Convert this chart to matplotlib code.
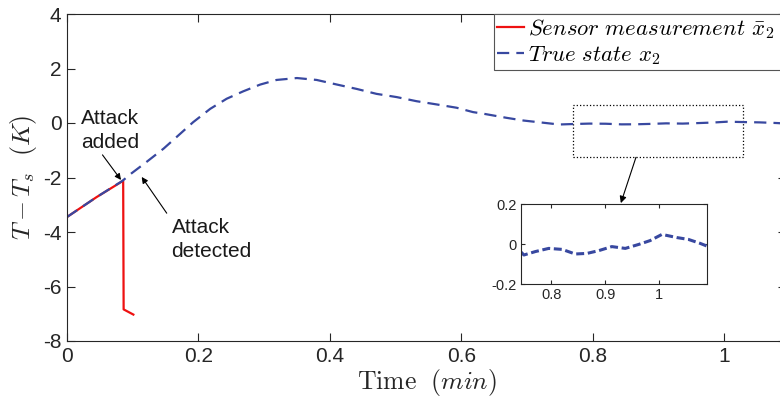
import matplotlib
matplotlib.use("Agg")
import matplotlib.pyplot as plt
from matplotlib.patches import Rectangle

plt.rcParams['font.family'] = ['Liberation Sans', 'DejaVu Sans']
plt.rcParams['mathtext.fontset'] = 'cm'

# True state x2 (time in min, value in K)
t_true = [0, 0.045, 0.084, 0.098, 0.121, 0.147, 0.167, 0.192, 0.218, 0.243, 0.268,
          0.294, 0.319, 0.350, 0.380, 0.411, 0.441, 0.471, 0.502, 0.532, 0.563,
          0.593, 0.618, 0.634, 0.669, 0.695, 0.725, 0.749, 0.770, 0.795, 0.820,
          0.844, 0.866, 0.888, 0.912, 0.937, 0.962, 0.983, 1.005, 1.033, 1.054,
          1.076, 1.088]
x_true = [-3.45, -2.72, -2.13, -1.85, -1.43, -0.94, -0.51, 0.03, 0.52, 0.89, 1.16,
          1.41, 1.58, 1.65, 1.58, 1.41, 1.25, 1.07, 0.95, 0.80, 0.68,
          0.56, 0.40, 0.34, 0.19, 0.09, 0.01, -0.055, -0.038, -0.022, -0.027,
          -0.05, -0.047, -0.033, -0.013, -0.022, -0.002, 0.017, 0.048, 0.032, 0.023,
          0.003, -0.01]

# Sensor measurement
t_sens = [0, 0.045, 0.0855, 0.0862, 0.101]
x_sens = [-3.45, -2.72, -2.12, -6.84, -7.03]

xticks = [0, 0.2, 0.4, 0.6, 0.8, 1]
yticks = [-8, -6, -4, -2, 0, 2, 4]
in_xticks = [0.8, 0.9, 1]
in_yticks = [-0.2, 0, 0.2]

blue = '#3848a0'
red = '#ee1111'
axcol = '#262626'
txtcol = '#1a1a1a'

W, H = 780, 409
fig = plt.figure(figsize=(W / 100, H / 100), dpi=100)

xmax = 1.095
pxu = 657.0
left, right = 67, 67 + xmax * pxu
top, bottom = 14, 341
ax = fig.add_axes([left / W, (H - bottom) / H, (right - left) / W, (bottom - top) / H])

ax.plot(t_sens, x_sens, color=red, lw=1.6, label=r'$Sensor\ measurement\ \bar{x}_2$')
ax.plot(t_true, x_true, color=blue, lw=1.6, linestyle=(0, (5.5, 3.2)),
        label=r'$True\ state\ x_2$')

ax.set_xlim(0, xmax)
ax.set_ylim(-8, 4)
ax.set_xticks(xticks)
ax.set_xticklabels(['0', '0.2', '0.4', '0.6', '0.8', '1'])
ax.set_yticks(yticks)
ax.set_yticklabels(['-8', '-6', '-4', '-2', '0', '2', '4'])
ax.tick_params(direction='in', length=6, width=0.8, colors=axcol, labelsize=15,
               top=True, right=True, pad=4)
for s in ax.spines.values():
    s.set_color(axcol)
    s.set_linewidth(0.8)

ax.set_xlabel(r'$\mathrm{Time}\ \ (min)$', fontsize=18.5, color=axcol, labelpad=1)
ax.set_ylabel(r'$T-T_s\ \ (K)$', fontsize=18.5, color=axcol, labelpad=3)

# annotations
ax.text(0.065, -0.90, 'Attack\nadded', ha='center', va='baseline', fontsize=15,
        color=txtcol, linespacing=1.3)
ax.annotate('', xy=(0.0822, -2.09), xytext=(0.054, -1.17),
            arrowprops=dict(arrowstyle='-|>', lw=0.8, color='black', mutation_scale=9,
                            shrinkA=0, shrinkB=0))
ax.text(0.159, -4.90, 'Attack\ndetected', ha='left', va='baseline', fontsize=15,
        color=txtcol, linespacing=1.3)
ax.annotate('', xy=(0.1137, -1.98), xytext=(0.1518, -3.31),
            arrowprops=dict(arrowstyle='-|>', lw=0.8, color='black', mutation_scale=9,
                            shrinkA=0, shrinkB=0))

# zoom rectangle
ax.add_patch(Rectangle((0.770, -1.24), 1.029 - 0.770, 0.66 + 1.24, fill=False,
                       linestyle=':', lw=0.9, edgecolor='black'))
ax.annotate('', xy=(0.843, -2.94), xytext=(0.866, -1.26),
            arrowprops=dict(arrowstyle='-|>', lw=0.8, color='black', mutation_scale=10,
                            shrinkA=0, shrinkB=0))

leg = ax.legend(loc='upper left', bbox_to_anchor=(494 / W, 0, 320 / W, (H - 14) / H),
                bbox_transform=fig.transFigure, mode='expand', fontsize=16.4,
                frameon=True, fancybox=False, framealpha=1, edgecolor='#555555',
                borderaxespad=0, borderpad=0.15, handlelength=1.15,
                handletextpad=0.2, labelspacing=0.08)
leg.get_frame().set_linewidth(0.8)

# inset
il, ir, it, ib = 520.7, 706.7, 204, 284
axin = fig.add_axes([il / W, (H - ib) / H, (ir - il) / W, (ib - it) / H])
axin.plot(t_true, x_true, color=blue, lw=2.2, linestyle=(0, (2.6, 1.2)))
axin.set_xlim(0.743, 1.088)
axin.set_ylim(-0.2, 0.2)
axin.set_xticks(in_xticks)
axin.set_xticklabels(['0.8', '0.9', '1'])
axin.set_yticks(in_yticks)
axin.set_yticklabels(['-0.2', '0', '0.2'])
axin.tick_params(direction='in', length=3, width=0.8, colors=axcol, labelsize=10.5,
                 top=True, right=True, pad=3)
for s in axin.spines.values():
    s.set_color(axcol)
    s.set_linewidth(0.8)

fig.savefig('out.png', dpi=100)
